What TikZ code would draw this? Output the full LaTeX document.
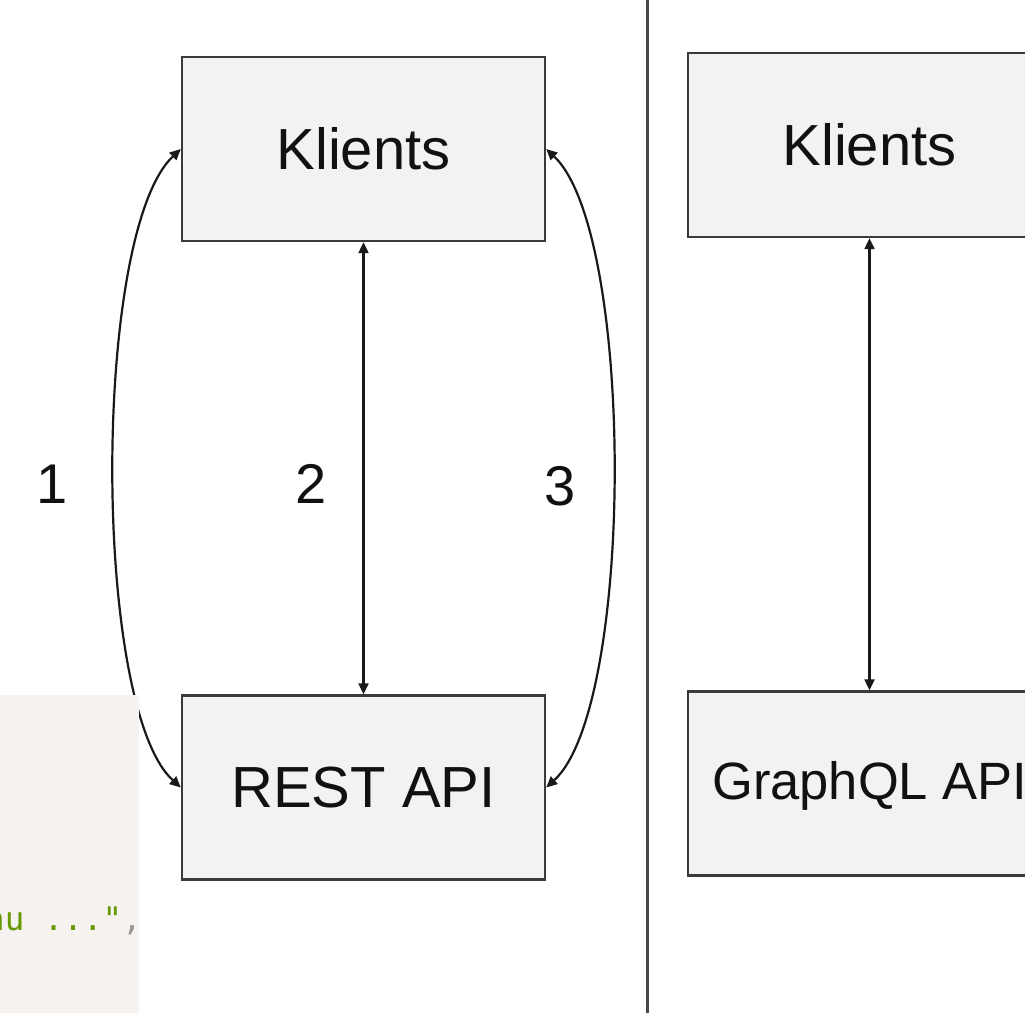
\documentclass[tikz,border=0pt]{standalone}
\usepackage{fontspec}
\setmainfont{Liberation Sans}
\newfontfamily\codefont{DejaVu Sans Mono}
\usetikzlibrary{arrows.meta}
\definecolor{boxfill}{HTML}{F2F2F2}
\definecolor{boxline}{HTML}{3A3A3A}
\definecolor{txt}{HTML}{111111}
\definecolor{codebg}{HTML}{F5F2F0}
\definecolor{codegreen}{HTML}{669900}
\definecolor{codepunct}{HTML}{999999}
\tikzset{
  boxnode/.style={draw=boxline, fill=boxfill, line width=2.4pt, minimum width=363pt, minimum height=184pt, inner sep=0pt, text=txt, font=\fontsize{58}{60}\selectfont},
  numlabel/.style={text=txt, inner sep=0pt, font=\fontsize{56}{60}\selectfont},
  conn/.style={draw=black!90, line width=2.2pt, {Triangle[length=11pt,width=10pt]}-{Triangle[length=11pt,width=10pt]}},
}
\begin{document}
\begin{tikzpicture}[x=1pt,y=-1pt]
\useasboundingbox (0,0) rectangle (1025,1012);
\clip (0,0) rectangle (1025,1012);
\fill[white] (0,0) rectangle (1025,1012);
% divider
\draw[line width=3pt, draw=black!72] (647,-5) -- (647,1020);
% left panel
\node[boxnode] (kl) at (363.5,149) {Klients};
\node[boxnode] (rl) at (363.5,787.5) {REST API};
\draw[conn] (kl.south) -- (rl.north);
\draw[conn] (kl.west) .. controls (92,232) and (92,707) .. (rl.west);
\draw[conn] (kl.east) .. controls (635,232) and (635,707) .. (rl.east);
\node[numlabel] (l1) at (52,484) {1};
\node[numlabel] (l2) at (311,484) {2};
\node[numlabel] (l3) at (560,486) {3};
% right panel
\node[boxnode] (kr) at (869.5,145) {Klients};
\node[boxnode] (gr) at (869.5,783.5) {};
\node[text=txt, inner sep=0pt, anchor=west, font=\fontsize{52.5}{56}\selectfont] (gt) at (712,786) {GraphQL API};
\draw[conn] (kr.south) -- (gr.north);
% code overlay
\fill[codebg] (-2,695) rectangle (139,1014);
\node[inner sep=0pt, anchor=base west, font=\codefont\fontsize{32.5}{34}\selectfont] (code) at (-15,930) {\textcolor{codegreen}{ņu ..."}\textcolor{codepunct}{,}};
\end{tikzpicture}
\end{document}
